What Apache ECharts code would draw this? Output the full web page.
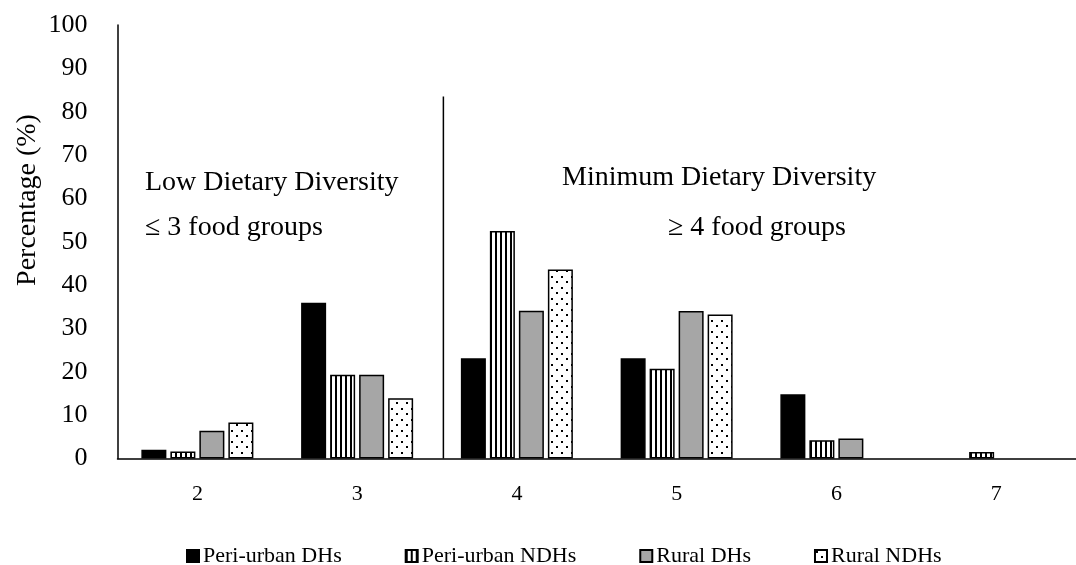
<!DOCTYPE html>
<html>
<head>
<meta charset="utf-8">
<script src="https://cdn.jsdelivr.net/npm/echarts@6/dist/echarts.min.js"></script>
<style>
html,body{margin:0;padding:0;background:#fff;}
#chart{width:1076px;height:565px;}
</style>
</head>
<body>
<div id="chart"></div>
<script>
var categories = ['2', '3', '4', '5', '6', '7'];
var seriesNames = ['Peri-urban DHs', 'Peri-urban NDHs', 'Rural DHs', 'Rural NDHs'];
var periUrbanDHs  = [2.0, 35.9, 23.1, 23.1, 14.8, 0];
var periUrbanNDHs = [1.6, 19.3, 52.5, 20.7, 4.2, 1.5];
var ruralDHs      = [6.4, 19.3, 34.1, 34.0, 4.6, 0];
var ruralNDHs     = [8.3, 13.9, 43.6, 33.2, 0, 0];
var yTicks = [0, 10, 20, 30, 40, 50, 60, 70, 80, 90, 100];
var dividerLine = [[2.04, 0], [2.04, 83.5]];
var annotations = [
  {text: 'Low Dietary Diversity', x: 145, y: 197},
  {text: '\u2264 3 food groups', x: 145, y: 242},
  {text: 'Minimum Dietary Diversity', x: 562, y: 192},
  {text: '\u2265 4 food groups', x: 668, y: 242}
];

var FONT = '"Liberation Serif", "Times New Roman", serif';

function stripePattern() {
  var c = document.createElement('canvas');
  c.width = 5; c.height = 10;
  var g = c.getContext('2d');
  g.fillStyle = '#fff'; g.fillRect(0, 0, 5, 10);
  g.fillStyle = '#000'; g.fillRect(0, 0, 2, 10);
  return c;
}
function dotPattern() {
  var c = document.createElement('canvas');
  c.width = 10; c.height = 11;
  var g = c.getContext('2d');
  g.fillStyle = '#fff'; g.fillRect(0, 0, 10, 11);
  g.fillStyle = '#000';
  g.fillRect(1, 1, 2, 2);
  g.fillRect(6, 6, 2, 2);
  return c;
}

var chart = echarts.init(document.getElementById('chart'), null, {renderer: 'canvas'});

function barSeries(name, data, color) {
  return {
    name: name,
    type: 'bar',
    xAxisIndex: 0,
    yAxisIndex: 0,
    data: data.map(function (v) {
      return v === 0 ? {value: 0, itemStyle: {borderWidth: 0}} : v;
    }),
    barWidth: 25,
    barGap: '16%',
    itemStyle: {color: color, borderColor: '#000', borderWidth: 1.5},
    emphasis: {disabled: true}
  };
}

var option = {
  animation: false,
  backgroundColor: '#fff',
  textStyle: {fontFamily: FONT},
  grid: {left: 117.5, top: 25, width: 966, height: 433.5},
  legend: {
    data: seriesNames,
    left: 181,
    top: 540,
    itemWidth: 12,
    itemHeight: 12,
    itemGap: 63,
    icon: 'rect',
    textStyle: {fontFamily: FONT, fontSize: 22, color: '#000', padding: [0, 0, 0, -1]}
  },
  xAxis: [
    {
      type: 'category',
      data: categories,
      axisLine: {lineStyle: {color: '#000', width: 1.5}},
      axisTick: {show: false},
      axisLabel: {fontFamily: FONT, fontSize: 22, color: '#000', margin: 25},
      splitLine: {show: false}
    },
    {
      type: 'value',
      min: 0, max: 6,
      show: false
    }
  ],
  yAxis: {
    type: 'value',
    min: 0, max: 100, interval: 10,
    axisLine: {show: true, lineStyle: {color: '#000', width: 1.5}},
    axisTick: {show: false},
    splitLine: {show: false},
    axisLabel: {fontFamily: FONT, fontSize: 26, color: '#000', margin: 30,
      formatter: function (v) { return yTicks.indexOf(v) >= 0 ? String(v) : ''; }}
  },
  series: [
    barSeries(seriesNames[0], periUrbanDHs, '#000'),
    barSeries(seriesNames[1], periUrbanNDHs, {image: stripePattern(), repeat: 'repeat'}),
    barSeries(seriesNames[2], ruralDHs, '#a6a6a6'),
    barSeries(seriesNames[3], ruralNDHs, {image: dotPattern(), repeat: 'repeat'}),
    {
      name: 'divider',
      type: 'line',
      xAxisIndex: 1,
      yAxisIndex: 0,
      data: dividerLine,
      symbol: 'none',
      lineStyle: {color: '#000', width: 1.5},
      silent: true
    }
  ],
  graphic: [
    {
      type: 'text',
      x: 28, y: 200,
      rotation: Math.PI / 2,
      style: {text: 'Percentage (%)', font: '28px ' + FONT, fill: '#000',
        textAlign: 'center', textVerticalAlign: 'middle'}
    }
  ].concat(annotations.map(function (a) {
    return {
      type: 'text', x: a.x, y: a.y,
      style: {text: a.text, font: '28px ' + FONT, fill: '#000',
        textAlign: 'left', textVerticalAlign: 'bottom'}
    };
  }))
};
chart.setOption(option);
</script>
</body>
</html>
